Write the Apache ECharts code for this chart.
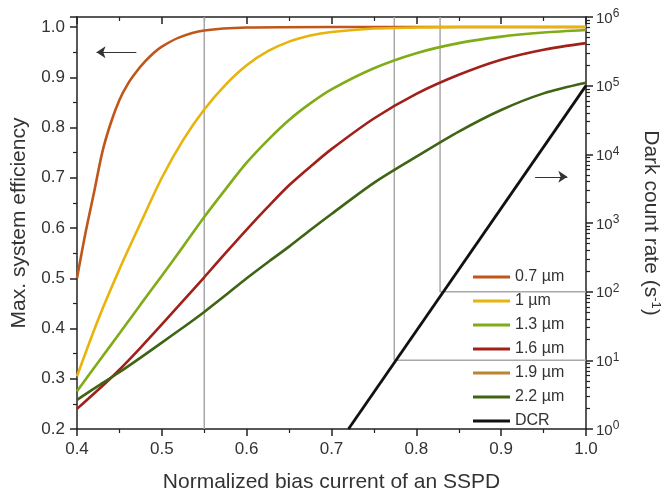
<!DOCTYPE html>
<html>
<head>
<meta charset="utf-8">
<script src="https://cdn.jsdelivr.net/npm/echarts@6/dist/echarts.min.js"></script>
<style>html,body{margin:0;padding:0;background:#fff}#c{width:668px;height:493px}</style>
</head>
<body>
<div id="c"></div>
<script>
// ---- data ----
const x07 = [0.40,0.41,0.42,0.43,0.44,0.45,0.46,0.47,0.48,0.49,0.50,0.52,0.55,0.60,0.70,0.80,0.90,1.00];
const eff07 = [0.50,0.59,0.67,0.752,0.81,0.855,0.887,0.911,0.931,0.948,0.961,0.979,0.993,0.999,1.0,1.0,1.0,1.0];

const xs = [0.40,0.425,0.45,0.475,0.50,0.525,0.55,0.575,0.60,0.625,0.65,0.675,0.70,0.75,0.80,0.85,0.90,0.95,1.00];
const eff10 = [0.305,0.418,0.518,0.61,0.70,0.775,0.836,0.885,0.924,0.952,0.971,0.983,0.990,0.997,0.999,1.0,1.0,1.0,1.0];
const eff13 = [0.275,0.333,0.39,0.448,0.505,0.563,0.622,0.677,0.73,0.775,0.815,0.848,0.876,0.918,0.948,0.968,0.981,0.989,0.994];
const eff16 = [0.24,0.278,0.318,0.362,0.408,0.455,0.502,0.55,0.597,0.642,0.685,0.722,0.757,0.818,0.867,0.905,0.935,0.955,0.968];
const eff19 = [];
const eff22 = [0.258,0.286,0.313,0.342,0.372,0.402,0.433,0.466,0.50,0.532,0.563,0.596,0.628,0.69,0.742,0.792,0.835,0.868,0.889];

const dcrX = [0.72, 1.00];
const dcrY = [1, 100000];

const seriesNames = ['0.7 \u00b5m','1 \u00b5m','1.3 \u00b5m','1.6 \u00b5m','1.9 \u00b5m','2.2 \u00b5m','DCR'];
const seriesColors = ['#c0561a','#e8b40c','#80ac18','#a0201a','#bb8430','#3e6414','#111111'];

// guide lines (gray)
const guideEffX = 0.55;
const guideDcrX = [0.774, 0.828];
const guideDcrY = [10, 100];

const xTicks = [0.4,0.5,0.6,0.7,0.8,0.9,1.0];
const logDecades = [0,1,2,3,4,5];
const logMinorTicks = [];
logDecades.forEach(d => { for (let m = 2; m <= 9; m++) logMinorTicks.push(m * Math.pow(10, d)); });

const pairs = (xa, ya) => xa.map((x, i) => [x, ya[i]]);
const txt = '#333';
const font = 'Liberation Sans, Arial, sans-serif';

const effSeries = [
  [x07, eff07], [xs, eff10], [xs, eff13], [xs, eff16], [xs, eff19], [xs, eff22]
].map((d, i) => ({
  name: seriesNames[i], type: 'line', xAxisIndex: 0, yAxisIndex: 0,
  data: pairs(d[0], d[1]), smooth: 0.3, symbol: 'none', z: 5,
  lineStyle: { color: seriesColors[i], width: 2.6 }, itemStyle: { color: seriesColors[i] }
}));
effSeries[0].markLine = {
  silent: true, symbol: ['none', 'arrow'], symbolSize: 9, label: { show: false },
  lineStyle: { color: '#333', width: 1, type: 'solid' },
  data: [[{ coord: [0.47, 0.95] }, { coord: [0.423, 0.95] }]]
};

const gray = { color: '#a8a8a8', width: 1.5 };
const guideSeries = [
  { type: 'line', yAxisIndex: 0, data: [[guideEffX, 0.2], [guideEffX, 1.02]] },
  { type: 'line', yAxisIndex: 1, data: [[guideDcrX[0], 1e6], [guideDcrX[0], guideDcrY[0]], [1.0, guideDcrY[0]]] },
  { type: 'line', yAxisIndex: 1, data: [[guideDcrX[1], 1e6], [guideDcrX[1], guideDcrY[1]], [1.0, guideDcrY[1]]] }
].map(s => Object.assign(s, { xAxisIndex: 0, symbol: 'none', silent: true, z: 2, lineStyle: gray }));

const dcrSeries = {
  name: 'DCR', type: 'line', xAxisIndex: 0, yAxisIndex: 1, data: pairs(dcrX, dcrY),
  symbol: 'none', z: 6, lineStyle: { color: seriesColors[6], width: 2.8 }, itemStyle: { color: seriesColors[6] },
  markLine: {
    silent: true, symbol: ['none', 'arrow'], symbolSize: 9, label: { show: false },
    lineStyle: { color: '#333', width: 1, type: 'solid' },
    data: [[{ coord: [0.94, 4700] }, { coord: [0.978, 4700] }]]
  }
};

const axLine = { show: true, lineStyle: { color: '#222', width: 1.5 } };
const tickStyle = { color: '#222', width: 1.5 };
const minorStyle = { color: '#222', width: 1.2 };

const option = {
  animation: false,
  backgroundColor: '#fff',
  textStyle: { fontFamily: font },
  grid: { left: 77, right: 82, top: 17, bottom: 64, containLabel: false, outerBoundsMode: 'none' },
  legend: {
    data: seriesNames, orient: 'vertical', left: 473, top: 269, padding: 0,
    icon: 'rect', itemWidth: 37, itemHeight: 3, itemGap: 8,
    textStyle: { fontSize: 16, color: txt, lineHeight: 16, fontFamily: font },
    selectedMode: false
  },
  xAxis: [
    {
      type: 'value', position: 'bottom', min: 0.4, max: 1.0, interval: 0.1,
      name: 'Normalized bias current of an SSPD', nameLocation: 'middle', nameGap: 43,
      nameTextStyle: { fontSize: 21, color: txt, fontFamily: font },
      axisLine: axLine, splitLine: { show: false },
      axisTick: { show: true, inside: false, length: 7, lineStyle: tickStyle },
      minorTick: { show: true, splitNumber: 2, length: 4, lineStyle: minorStyle },
      axisLabel: { fontSize: 17, color: txt, margin: 12, formatter: v => xTicks.some(t => Math.abs(t - v) < 1e-6) ? v.toFixed(1) : '' }
    },
    {
      type: 'value', position: 'top', min: 0.4, max: 1.0, interval: 0.1,
      axisLine: axLine, splitLine: { show: false },
      axisTick: { show: true, inside: true, length: 7, lineStyle: tickStyle },
      minorTick: { show: true, splitNumber: 2, length: 4, lineStyle: minorStyle },
      axisLabel: { show: false }
    }
  ],
  yAxis: [
    {
      type: 'value', position: 'left', min: 0.2, max: 1.02, interval: 0.1,
      name: 'Max. system efficiency', nameLocation: 'middle', nameGap: 47,
      nameTextStyle: { fontSize: 21, color: txt, fontFamily: font },
      axisLine: axLine, splitLine: { show: false },
      axisTick: { show: true, inside: false, length: 7, lineStyle: tickStyle },
      minorTick: { show: true, splitNumber: 2, length: 4, lineStyle: minorStyle },
      axisLabel: { fontSize: 17, color: txt, margin: 12, showMaxLabel: false,
        formatter: v => (Math.abs(v * 10 - Math.round(v * 10)) < 1e-6 && v <= 1.0001) ? v.toFixed(1) : '' }
    },
    {
      type: 'log', logBase: 10, position: 'right', min: 1, max: 1e6,
      name: '{n|Dark count rate (s}{sup|-1}{n|)}', nameLocation: 'middle', nameGap: 54, nameRotate: -90,
      nameTextStyle: { fontSize: 21, color: txt, fontFamily: font,
        rich: {
          n: { fontSize: 21, color: txt, verticalAlign: 'bottom', fontFamily: font },
          sup: { fontSize: 13, color: txt, verticalAlign: 'bottom', padding: [0, 0, 9, 0], fontFamily: font }
        } },
      axisLine: axLine, splitLine: { show: false },
      axisTick: { show: true, inside: false, length: 7, lineStyle: tickStyle },
      axisLabel: { color: txt, margin: 10,
        formatter: v => '{b|10}{s|' + Math.round(Math.log10(v)) + '}',
        rich: {
          b: { fontSize: 15, color: txt, verticalAlign: 'bottom', fontFamily: font },
          s: { fontSize: 12, color: txt, verticalAlign: 'bottom', padding: [0, 0, 6, 0], fontFamily: font }
        } }
    },
    {
      type: 'log', logBase: 10, position: 'right', min: 1, max: 1e6,
      axisLine: { show: false }, splitLine: { show: false },
      axisTick: { show: true, inside: false, length: 4, lineStyle: minorStyle, customValues: logMinorTicks },
      axisLabel: { show: false }
    }
  ],
  series: guideSeries.concat(effSeries, [dcrSeries])
};

echarts.init(document.getElementById('c'), null, { renderer: 'canvas' }).setOption(option);
</script>
</body>
</html>
